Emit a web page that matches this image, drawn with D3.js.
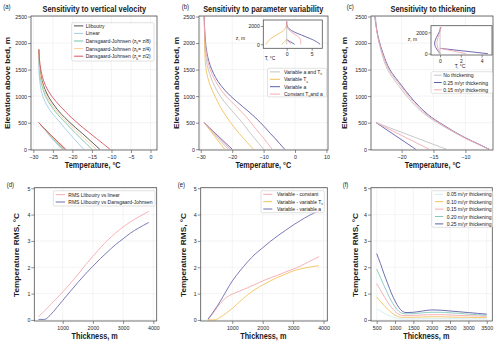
<!DOCTYPE html>
<html>
<head>
<meta charset="utf-8">
<script src="https://cdn.jsdelivr.net/npm/d3@7"></script>
<style>
body { margin: 0; background: #fff; }
svg { display: block; }
</style>
</head>
<body>
<div id="chart"></div>
<script>
// ---- (a) sensitivity to vertical velocity ----
var elevA = [0, 100, 200, 300, 400, 500, 600, 700, 800, 1000, 1200, 1400, 1600, 1880];
var elevThinA = [0, 125, 250, 375, 500];
var vvLliboutry = [-13.0, -14.5, -16.0, -17.5, -19.1, -20.6, -22.0, -23.3, -24.4, -26.2, -27.4, -28.1, -28.4, -28.6];
var vvLinear = [-17.1, -18.4, -19.6, -20.8, -22.0, -23.1, -24.3, -25.4, -26.3, -27.6, -28.2, -28.5, -28.6, -28.6];
var vvDJ8 = [-15.0, -16.4, -17.8, -19.2, -20.5, -21.8, -23.1, -24.3, -25.3, -26.9, -27.8, -28.3, -28.5, -28.6];
var vvDJ4 = [-13.9, -15.4, -16.9, -18.4, -19.8, -21.2, -22.6, -23.8, -24.9, -26.6, -27.6, -28.2, -28.5, -28.6];
var vvDJ2 = [-10.4, -12.1, -13.8, -15.5, -17.2, -18.8, -20.3, -21.7, -23.0, -25.3, -26.9, -27.8, -28.3, -28.6];
var vvLliboutryThin = [-22.0, -23.7, -25.4, -27.0, -28.6];
var vvLinearThin = [-22.7, -24.3, -25.8, -27.2, -28.6];
var vvDJ8Thin = [-22.4, -24.0, -25.6, -27.1, -28.6];
var vvDJ4Thin = [-22.2, -23.8, -25.5, -27.1, -28.6];
var vvDJ2Thin = [-21.7, -23.5, -25.3, -27.0, -28.6];

// ---- (b) parameter variability ----
var elevLong = [0, 100, 200, 300, 400, 500, 600, 800, 1000, 1200, 1500, 1800, 2100, 2500];
var elevThin = [0, 250, 500];
var pvBoth = [-10.0, -11.4, -12.8, -14.2, -15.5, -16.8, -18.2, -21.2, -23.8, -25.7, -27.6, -28.5, -28.8, -28.9];
var pvTs = [-13.2, -14.8, -16.3, -17.8, -19.2, -20.5, -21.7, -23.8, -25.5, -27.0, -28.3, -28.7, -28.8, -28.9];
var pvA = [-3.3, -4.8, -6.3, -7.9, -9.4, -11.0, -12.7, -16.6, -20.5, -23.6, -26.5, -28.0, -28.6, -28.9];
var pvConst = [-7.3, -8.6, -9.9, -11.3, -12.7, -14.0, -15.4, -18.6, -22.0, -24.5, -27.0, -28.2, -28.7, -28.9];
var pvBothThin = [-21.3, -25.2, -28.9];
var pvTsThin = [-22.4, -25.7, -28.9];
var pvAThin = [-20.0, -24.5, -28.9];
var pvConstThin = [-20.6, -24.8, -28.9];
// inset (b): differences
var elevInB = [0, 200, 400, 600, 800, 1000, 1200, 1400, 1600, 1800, 2000, 2250, 2500];
var dBoth = [0, 0, 0, 0, 0, 0, 0, 0, 0, 0, 0, 0, 0];
var dTs = [-4.1, -3.9, -3.6, -3.2, -2.7, -2.1, -1.5, -0.9, -0.5, -0.2, -0.1, 0, 0];
var dA = [6.7, 6.2, 5.6, 4.8, 3.9, 3.0, 2.1, 1.3, 0.7, 0.3, 0.1, 0, 0];
var dConst = [2.8, 2.8, 2.8, 2.7, 2.4, 1.9, 1.3, 0.8, 0.4, 0.15, 0.05, 0, 0];
var dTsThin = [-1.0, -0.5, 0];
var dAThin = [1.6, 0.8, 0];
var dConstThin = [0.9, 0.45, 0];

// ---- (c) thickening ----
var thkNone = [-6.3, -8.1, -9.9, -11.5, -13.0, -14.4, -15.7, -17.7, -19.2, -20.5, -22.2, -23.1, -23.7, -24.1];
var thk25 = [-6.3, -8.0, -9.75, -11.3, -12.7, -14.05, -15.3, -17.2, -18.7, -20.0, -21.85, -22.9, -23.65, -24.2];
var thk15 = [-6.3, -8.05, -9.85, -11.4, -12.85, -14.2, -15.5, -17.4, -18.9, -20.2, -22.0, -23.0, -23.7, -24.15];
var thkNoneThin = [-13.0, -18.5, -24.0];
var thk25Thin = [-17.8, -20.9, -24.0];
var thk15Thin = [-15.7, -19.85, -24.0];
// inset (c): differences
var elevInC = [0, 200, 400, 600, 800, 1000, 1200, 1500, 1800, 2100, 2500];
var dNone = [0, 0, 0, 0, 0, 0, 0, 0, 0, 0, 0];
var d25 = [0, -0.15, -0.3, -0.42, -0.5, -0.52, -0.48, -0.36, -0.2, -0.05, 0.08];
var d15 = [0, -0.06, -0.14, -0.22, -0.28, -0.3, -0.28, -0.2, -0.1, 0.0, 0.1];
var d25Thin = [4.6, 2.3, 0];
var d15Thin = [2.5, 1.25, 0];

// ---- (d), (e) RMS vs thickness ----
var thickDE = [200, 400, 600, 800, 1000, 1250, 1500, 1750, 2000, 2250, 2500, 2750, 3000, 3250, 3500, 3850];
var rmsLinear = [0.12, 0.35, 0.58, 0.82, 1.06, 1.38, 1.72, 2.08, 2.42, 2.74, 3.04, 3.3, 3.53, 3.73, 3.9, 4.12];
var rmsDJ = [0.02, 0.02, 0.2, 0.46, 0.74, 1.08, 1.42, 1.74, 2.04, 2.33, 2.6, 2.86, 3.08, 3.3, 3.48, 3.7];
var rmsConst = [0.0, 0.3, 0.62, 0.85, 0.98, 1.1, 1.22, 1.35, 1.48, 1.6, 1.7, 1.82, 1.93, 2.05, 2.2, 2.4];
var rmsTs = [0.0, 0.0, 0.1, 0.26, 0.44, 0.7, 0.95, 1.16, 1.33, 1.48, 1.62, 1.74, 1.86, 1.94, 2.0, 2.06];
var rmsA = [0.03, 0.35, 0.7, 1.1, 1.48, 1.86, 2.2, 2.5, 2.74, 2.98, 3.2, 3.4, 3.6, 3.78, 3.95, 4.14];

// ---- (f) RMS for thickening rates ----
var thickF = [500, 600, 700, 800, 900, 1000, 1100, 1200, 1300, 1500, 1750, 2000, 2250, 2500, 2750, 3000, 3250, 3500];
var rms05 = [0.42, 0.34, 0.26, 0.19, 0.13, 0.08, 0.05, 0.04, 0.04, 0.04, 0.045, 0.05, 0.05, 0.05, 0.045, 0.045, 0.04, 0.04];
var rms10 = [0.87, 0.71, 0.55, 0.41, 0.28, 0.18, 0.12, 0.1, 0.1, 0.1, 0.11, 0.12, 0.12, 0.11, 0.1, 0.1, 0.09, 0.09];
var rms15 = [1.38, 1.14, 0.9, 0.68, 0.48, 0.33, 0.22, 0.17, 0.16, 0.17, 0.19, 0.2, 0.2, 0.19, 0.17, 0.16, 0.15, 0.14];
var rms20 = [1.93, 1.62, 1.3, 1.0, 0.72, 0.5, 0.33, 0.25, 0.23, 0.24, 0.27, 0.29, 0.29, 0.27, 0.25, 0.22, 0.2, 0.18];
var rms25 = [2.52, 2.15, 1.75, 1.38, 1.02, 0.72, 0.48, 0.33, 0.28, 0.29, 0.34, 0.38, 0.37, 0.34, 0.31, 0.28, 0.25, 0.22];

// tick labels
var elevTicks = [0, 500, 1000, 1500, 2000, 2500];
var tempTicksA = [-30, -25, -20, -15, -10, -5, 0];
var tempTicksB = [-30, -20, -10, 0, 10];
var tempTicksC = [-20, -15, -10];
var rmsTicks = [0, 1, 2, 3, 4, 5];
var thickTicksDE = [1000, 2000, 3000, 4000];
var thickTicksF = [500, 1000, 1500, 2000, 2500, 3000, 3500];
var insetElevTicks = [0, 2000];
var insetTicksB = [0, 5];
var insetTicksC = [0, 2, 4];

//colours
var cDark = "#4a4a4a", cLightBlue = "#a3cbe6", cTeal = "#74c3ac", cPeach = "#fccf98", cRed = "#d9545c";
var cGrey = "#c2c2c2", cYellow = "#f0c25c", cPurple = "#5d5fa8", cPink = "#f6a9b0", cCyan = "#cdeef4";

var SX = 0.88; // the figure is squeezed horizontally
var svg = d3.select("#chart").append("svg").attr("width", 500).attr("height", 344)
    .style("font-family", "'Liberation Sans', Arial, sans-serif");

function txt(g, x, y, s, size, weight, anchor, rot) {
    var tr = "translate(" + x + "," + y + ") scale(" + SX + ",1)" + (rot ? " rotate(-90)" : "");
    return g.append("text")
        .attr("transform", tr)
        .attr("text-anchor", anchor || "middle")
        .attr("font-size", size)
        .attr("font-weight", weight || "normal")
        .attr("fill", "#1a1a1a")
        .text(s);
}

function makePanel(box, xDom, yDom, xTicks, yTicks, opts) {
    var g = svg.append("g");
    var x = d3.scaleLinear().domain(xDom).range([box.left, box.right]);
    var y = d3.scaleLinear().domain(yDom).range([box.bottom, box.top]);
    var tk = opts.tick || 3;
    var fs = opts.font || 6;

    g.append("rect").attr("x", box.left).attr("y", box.top)
        .attr("width", box.right - box.left).attr("height", box.bottom - box.top).attr("fill", "#fff");

    if (opts.grid) {
        g.selectAll(".gx").data(xTicks).enter().append("line")
            .attr("x1", function(d) { return x(d); }).attr("x2", function(d) { return x(d); })
            .attr("y1", box.top).attr("y2", box.bottom)
            .attr("stroke", "#ececec").attr("stroke-width", 0.6);
        g.selectAll(".gy").data(yTicks).enter().append("line")
            .attr("y1", function(d) { return y(d); }).attr("y2", function(d) { return y(d); })
            .attr("x1", box.left).attr("x2", box.right)
            .attr("stroke", "#ececec").attr("stroke-width", 0.6);
    }

    var lines = g.append("g");

    var xAxis = g.append("g").attr("transform", "translate(0," + box.bottom + ")")
        .call(d3.axisBottom(x).tickValues(xTicks).tickSize(tk).tickPadding(1.5).tickFormat(d3.format("d")));
    var yAxis = g.append("g").attr("transform", "translate(" + box.left + ",0)")
        .call(d3.axisLeft(y).tickValues(yTicks).tickSize(tk).tickPadding(1.5).tickFormat(d3.format("d")));
    [xAxis, yAxis].forEach(function(a) {
        a.attr("font-family", null).attr("font-size", null);
        a.select(".domain").remove();
        a.selectAll("line").attr("stroke", "#444").attr("stroke-width", 0.6);
        a.selectAll("text").attr("fill", "#262626").style("font-size", fs + "px")
            .attr("transform", "scale(" + SX + ",1)");
    });

    g.append("rect").attr("x", box.left).attr("y", box.top)
        .attr("width", box.right - box.left).attr("height", box.bottom - box.top)
        .attr("fill", "none").attr("stroke", "#505050").attr("stroke-width", 0.8);

    return { g: g, lines: lines, x: x, y: y };
}

// profile lines: x = temperature, y = elevation
function profile(p, temps, elev, color) {
    var line = d3.line()
        .x(function(d) { return p.x(d[0]); })
        .y(function(d) { return p.y(d[1]); })
        .curve(d3.curveMonotoneY);
    p.lines.append("path").datum(d3.zip(temps, elev))
        .attr("d", line).attr("fill", "none").attr("stroke", color).attr("stroke-width", 0.9);
}

function series(p, xs, vals, color) {
    var line = d3.line()
        .x(function(d) { return p.x(d[0]); })
        .y(function(d) { return p.y(d[1]); })
        .curve(d3.curveMonotoneX);
    p.lines.append("path").datum(d3.zip(xs, vals))
        .attr("d", line).attr("fill", "none").attr("stroke", color).attr("stroke-width", 0.9);
}

function legend(spec, items) {
    var g = svg.append("g");
    g.append("rect").attr("x", spec.box[0]).attr("y", spec.box[1])
        .attr("width", spec.box[2] - spec.box[0]).attr("height", spec.box[3] - spec.box[1])
        .attr("rx", 1.5).attr("fill", "#fff").attr("fill-opacity", 0.85)
        .attr("stroke", "#cfcfcf").attr("stroke-width", 0.6);
    items.forEach(function(it, i) {
        var ry = spec.rows[i];
        g.append("line").attr("x1", spec.hx[0]).attr("x2", spec.hx[1]).attr("y1", ry).attr("y2", ry)
            .attr("stroke", it.color).attr("stroke-width", 1);
        var t = txt(g, spec.tx, ry + 2, "", 5.7, "normal", "start");
        t.append("tspan").text(it.text[0]);
        if (it.text.length > 1) {
            t.append("tspan").attr("font-size", 4).attr("dy", 1.3).text(it.text[1]);
            t.append("tspan").attr("dy", -1.3).text(it.text[2]);
        }
    });
}

// ================= (a) =================
var pa = makePanel({ left: 31, right: 157, top: 16, bottom: 150 }, [-30.6, 1.66], [-15, 2510],
    tempTicksA, elevTicks, { grid: true });
[[vvLliboutry, vvLliboutryThin, cDark], [vvLinear, vvLinearThin, cLightBlue], [vvDJ8, vvDJ8Thin, cTeal],
 [vvDJ4, vvDJ4Thin, cPeach], [vvDJ2, vvDJ2Thin, cRed]].forEach(function(s) {
    profile(pa, s[0], elevA, s[2]);
    profile(pa, s[1], elevThinA, s[2]);
});
legend({ box: [71.7, 22.7, 154, 61], rows: [25.9, 33.4, 41, 48.6, 56.2], hx: [74, 83.3], tx: 85.7 }, [
    { text: ["Lliboutry"], color: cDark },
    { text: ["Linear"], color: cLightBlue },
    { text: ["Dansgaard-Johnsen (z", "k", "= z/8)"], color: cTeal },
    { text: ["Dansgaard-Johnsen (z", "k", "= z/4)"], color: cPeach },
    { text: ["Dansgaard-Johnsen (z", "k", "= z/2)"], color: cRed }
]);
txt(svg, 3.3, 8.5, "(a)", 6.8, "normal", "start");
txt(svg, 94.3, 12, "Sensitivity to vertical velocity", 8.4, "bold");
txt(svg, 92.7, 167.5, "Temperature, \u00b0C", 8.3, "bold");
txt(svg, 10, 83, "Elevation above bed, m", 8.3, "bold", "middle", true);

// ================= (b) =================
var pb = makePanel({ left: 199, right: 328, top: 16, bottom: 150 }, [-30.57, 10.5], [-15, 2510],
    tempTicksB, elevTicks, { grid: true });
[[pvBoth, pvBothThin, cGrey], [pvTs, pvTsThin, cYellow], [pvA, pvAThin, cPurple],
 [pvConst, pvConstThin, cPink]].forEach(function(s) {
    profile(pb, s[0], elevLong, s[2]);
    profile(pb, s[1], elevThin, s[2]);
});
legend({ box: [267.5, 68.3, 326.5, 96.9], rows: [71.9, 79.3, 86.7, 94.1], hx: [270, 280], tx: 284 }, [
    { text: ["Variable a and T", "s", ""], color: cGrey },
    { text: ["Variable T", "s", ""], color: cYellow },
    { text: ["Variable a"], color: cPurple },
    { text: ["Constant T", "s", "and a"], color: cPink }
]);
var ib = makePanel({ left: 263.3, right: 322.3, top: 20, bottom: 48.3 }, [-4.68, 7.12], [-437, 2656],
    insetTicksB, insetElevTicks, { tick: 2.5, font: 5.8 });
profile(ib, dBoth, elevInB, cGrey);
profile(ib, dTs, elevInB, cYellow);
profile(ib, dA, elevInB, cPurple);
profile(ib, dConst, elevInB, cPink);
profile(ib, dTsThin, elevThin, cYellow);
profile(ib, dAThin, elevThin, cPurple);
profile(ib, dConstThin, elevThin, cPink);
txt(svg, 240.5, 40, "z, m", 5.6, "normal");
txt(svg, 270, 60, "T, \u00b0C", 5.6, "normal");
txt(svg, 181.7, 8.5, "(b)", 6.8, "normal", "start");
txt(svg, 263.3, 12, "Sensitivity to parameter variability", 8.4, "bold");
txt(svg, 263.3, 167.5, "Temperature, \u00b0C", 8.3, "bold");
txt(svg, 178.5, 83, "Elevation above bed, m", 8.3, "bold", "middle", true);

// ================= (c) =================
var pc = makePanel({ left: 371, right: 493, top: 16, bottom: 150 }, [-24.8, -5.67], [-15, 2510],
    tempTicksC, elevTicks, { grid: true });
[[thkNone, thkNoneThin, cGrey], [thk25, thk25Thin, cPurple], [thk15, thk15Thin, cPink]].forEach(function(s) {
    profile(pc, s[0], elevLong, s[2]);
    profile(pc, s[1], elevThin, s[2]);
});
legend({ box: [431, 71.7, 492.5, 93.3], rows: [75.2, 82.5, 89.8], hx: [434, 441.7], tx: 443.3 }, [
    { text: ["No thickening"], color: cGrey },
    { text: ["0.25 m/yr thickening"], color: cPurple },
    { text: ["0.15 m/yr thickening"], color: cPink }
]);
var ic = makePanel({ left: 431, right: 492, top: 25.7, bottom: 55 }, [-0.87, 5.0], [-125, 2625],
    insetTicksC, insetElevTicks, { tick: 2.5, font: 5.8 });
profile(ic, dNone, elevInC, cGrey);
profile(ic, d25, elevInC, cPurple);
profile(ic, d15, elevInC, cPink);
profile(ic, d25Thin, elevThin, cPurple);
profile(ic, d15Thin, elevThin, cPink);
txt(svg, 412.5, 41, "z, m", 5.6, "normal");
txt(svg, 460, 68, "T, \u00b0C", 5.6, "normal");
txt(svg, 346.7, 8.5, "(c)", 6.8, "normal", "start");
txt(svg, 433, 12, "Sensitivity to thickening", 8.4, "bold");
txt(svg, 432.7, 167.5, "Temperature, \u00b0C", 8.3, "bold");
txt(svg, 346.5, 83, "Elevation above bed, m", 8.3, "bold", "middle", true);

// ================= (d) =================
var pd = makePanel({ left: 34.3, right: 156.7, top: 187.7, bottom: 321 }, [60, 4112], [-0.04, 5.02],
    thickTicksDE, rmsTicks, { grid: true });
series(pd, thickDE, rmsLinear, cPink);
series(pd, thickDE, rmsDJ, "#6c6cb2");
legend({ box: [53.3, 190.7, 155, 206], rows: [194.7, 202], hx: [55.7, 65], tx: 68.3 }, [
    { text: ["RMS Lliboutry vs linear"], color: cPink },
    { text: ["RMS Lliboutry vs Dansgaard-Johnsen"], color: "#6c6cb2" }
]);
txt(svg, 6.7, 187, "(d)", 6.8, "normal", "start");
txt(svg, 94.7, 339, "Thickness, m", 8.3, "bold");
txt(svg, 18.5, 255, "Temperature RMS, \u00b0C", 8.3, "bold", "middle", true);

// ================= (e) =================
var pe = makePanel({ left: 200.7, right: 327.3, top: 187.7, bottom: 321 }, [-40, 4125], [-0.04, 5.02],
    thickTicksDE, rmsTicks, { grid: true });
series(pe, thickDE, rmsConst, cPink);
series(pe, thickDE, rmsTs, cYellow);
series(pe, thickDE, rmsA, "#6c6cb2");
legend({ box: [261, 190.7, 324.3, 212.7], rows: [194.3, 201.7, 209], hx: [263.3, 272.3], tx: 277 }, [
    { text: ["Variable - constant"], color: cPink },
    { text: ["Variable - variable T", "s", ""], color: cYellow },
    { text: ["Variable - variable a"], color: "#6c6cb2" }
]);
txt(svg, 177.7, 187, "(e)", 6.8, "normal", "start");
txt(svg, 263.3, 339, "Thickness, m", 8.3, "bold");
txt(svg, 186, 255, "Temperature RMS, \u00b0C", 8.3, "bold", "middle", true);

// ================= (f) =================
var pf = makePanel({ left: 371, right: 492.3, top: 187.7, bottom: 321 }, [345, 3652], [-0.04, 5.02],
    thickTicksF, rmsTicks, { grid: true });
series(pf, thickF, rms05, cCyan);
series(pf, thickF, rms10, cYellow);
series(pf, thickF, rms15, cPink);
series(pf, thickF, rms20, "#84c9bc");
series(pf, thickF, rms25, cPurple);
legend({ box: [431.7, 190.7, 492.7, 227.3], rows: [194.3, 201.7, 209.1, 216.5, 223.9], hx: [435, 443.3], tx: 446.7 }, [
    { text: ["0.05 m/yr thickening"], color: cCyan },
    { text: ["0.10 m/yr thickening"], color: cYellow },
    { text: ["0.15 m/yr thickening"], color: cPink },
    { text: ["0.20 m/yr thickening"], color: "#84c9bc" },
    { text: ["0.25 m/yr thickening"], color: cPurple }
]);
txt(svg, 342.7, 187, "(f)", 6.8, "normal", "start");
txt(svg, 426.3, 339, "Thickness, m", 8.3, "bold");
txt(svg, 358, 255, "Temperature RMS, \u00b0C", 8.3, "bold", "middle", true);
</script>
</body>
</html>
